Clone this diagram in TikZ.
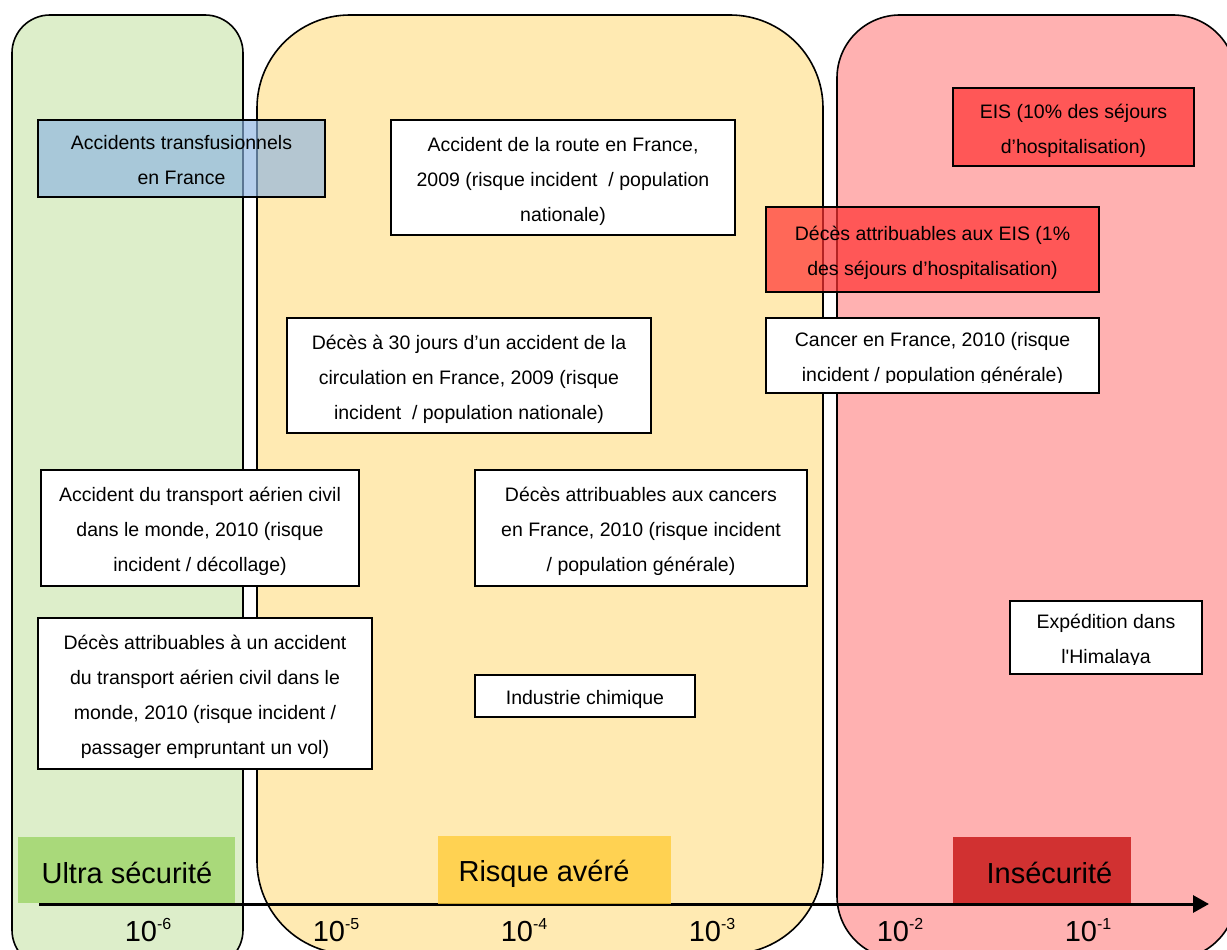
\documentclass[tikz,border=0pt]{standalone}
\usepackage{fontspec}
\setmainfont{Liberation Sans}
\usetikzlibrary{arrows.meta}
\definecolor{gpanel}{RGB}{221,238,202}
\definecolor{ypanel}{RGB}{255,234,178}
\definecolor{rpanel}{RGB}{255,177,177}
\definecolor{bluebox}{RGB}{141,180,226}
\definecolor{redbox}{RGB}{255,50,50}
\definecolor{gcat}{RGB}{156,212,102}
\definecolor{ycat}{RGB}{255,205,58}
\definecolor{rcat}{RGB}{198,17,17}
\tikzset{
  panel/.style={draw=black, line width=1.6},
  box/.style={draw=black, line width=1.8, rectangle, inner sep=0pt,
    font=\fontsize{19.5}{35}\selectfont, text=black},
  wbox/.style={box, fill=white},
  cat/.style={rectangle, inner sep=0pt, fill opacity=0.8, draw=none},
  cattext/.style={font=\fontsize{29}{32}\selectfont, text=black, inner sep=0pt, anchor=base},
  axlab/.style={font=\fontsize{29}{32}\selectfont, text=black, inner sep=0pt, anchor=base},
}
\newcommand{\pw}[1]{10\raisebox{12pt}{\fontsize{16}{16}\selectfont #1}}
\newcommand{\bt}[1]{\raisebox{-1.5pt}[\height][\depth]{\begin{tabular}{@{}c@{}}#1\end{tabular}}}
\begin{document}
\begin{tikzpicture}[x=1pt,y=-1pt]
\useasboundingbox (0,0) rectangle (1227,950);
\clip (0,0) rectangle (1227,950);
% panels
\draw[panel, fill=gpanel, rounded corners=38] (12,15) rectangle (243,968);
\draw[panel, fill=ypanel, rounded corners=93] (257,15) rectangle (823,954);
\draw[panel, fill=rpanel, rounded corners=63] (837,15) rectangle (1236,959);
% axis
\coordinate (axS) at (39,904);
\coordinate (axE) at (1209,904);
\draw[line width=3, -{Triangle[length=16,width=17]}] (axS) -- (axE);
% category labels
\node[cat, fill=gcat, minimum width=217, minimum height=66] (ultra) at (126.5,870) {};
\node[cattext] (ultraT) at (127,883) {Ultra sécurité};
\node[cat, fill=ycat, minimum width=233, minimum height=68] (risque) at (554.5,870) {};
\node[cattext] (risqueT) at (544,881) {Risque avéré};
\node[cat, fill=rcat, minimum width=178, minimum height=66] (insec) at (1042,870) {};
\node[cattext] (insecT) at (1049.5,883) {Insécurité};
% axis labels
\node[axlab] (l6) at (148,941) {\pw{-6}};
\node[axlab] (l5) at (336,941) {\pw{-5}};
\node[axlab] (l4) at (524,941) {\pw{-4}};
\node[axlab] (l3) at (712,941) {\pw{-3}};
\node[axlab] (l2) at (900,941) {\pw{-2}};
\node[axlab] (l1) at (1088,941) {\pw{-1}};
% boxes
\node[box, fill=bluebox, fill opacity=0.65, text opacity=1, minimum width=287, minimum height=77] (transf) at (181.5,158.5)
  {\bt{Accidents transfusionnels\\en France}};
\node[wbox, minimum width=344, minimum height=115] (route) at (563,177.5)
  {\bt{Accident de la route en France,\\2009 (risque incident~ / population\\nationale)}};
\node[box, fill=redbox, fill opacity=0.7, text opacity=1, minimum width=241, minimum height=78] (eis) at (1073.5,127)
  {\bt{EIS (10\% des séjours\\d’hospitalisation)}};
\node[box, fill=redbox, fill opacity=0.7, text opacity=1, minimum width=333, minimum height=85] (deceseis) at (932.5,249.5)
  {\bt{Décès attribuables aux EIS (1\%\\des séjours d’hospitalisation)}};
\node[wbox, minimum width=333, minimum height=75] (cancer) at (932.5,355.5)
  {\bt{Cancer en France, 2010 (risque\\incident / population générale)}};
\fill[white] (767,383.3) rectangle (1098,392);
\node[wbox, minimum width=364, minimum height=115] (deces30) at (469,375.5)
  {\bt{Décès à 30 jours d’un accident de la\\circulation en France, 2009 (risque\\incident~ / population nationale)}};
\node[wbox, minimum width=318, minimum height=116] (aerien) at (200,528)
  {\bt{Accident du transport aérien civil\\dans le monde, 2010 (risque\\incident / décollage)}};
\node[wbox, minimum width=332, minimum height=116] (cancers) at (641,528)
  {\bt{Décès attribuables aux cancers\\en France, 2010 (risque incident\\/ population générale)}};
\node[wbox, minimum width=192, minimum height=73] (himalaya) at (1106,637.5)
  {\bt{Expédition dans\\l\textquotesingle Himalaya}};
\fill[white] (1011,665) rectangle (1201,673);
\node[wbox, minimum width=334, minimum height=151] (decesaerien) at (205,693.5)
  {\bt{Décès attribuables à un accident\\du transport aérien civil dans le\\monde, 2010 (risque incident /\\passager empruntant un vol)}};
\node[wbox, minimum width=220, minimum height=42] (chimie) at (585,696)
  {\bt{Industrie chimique}};
\end{tikzpicture}
\end{document}
